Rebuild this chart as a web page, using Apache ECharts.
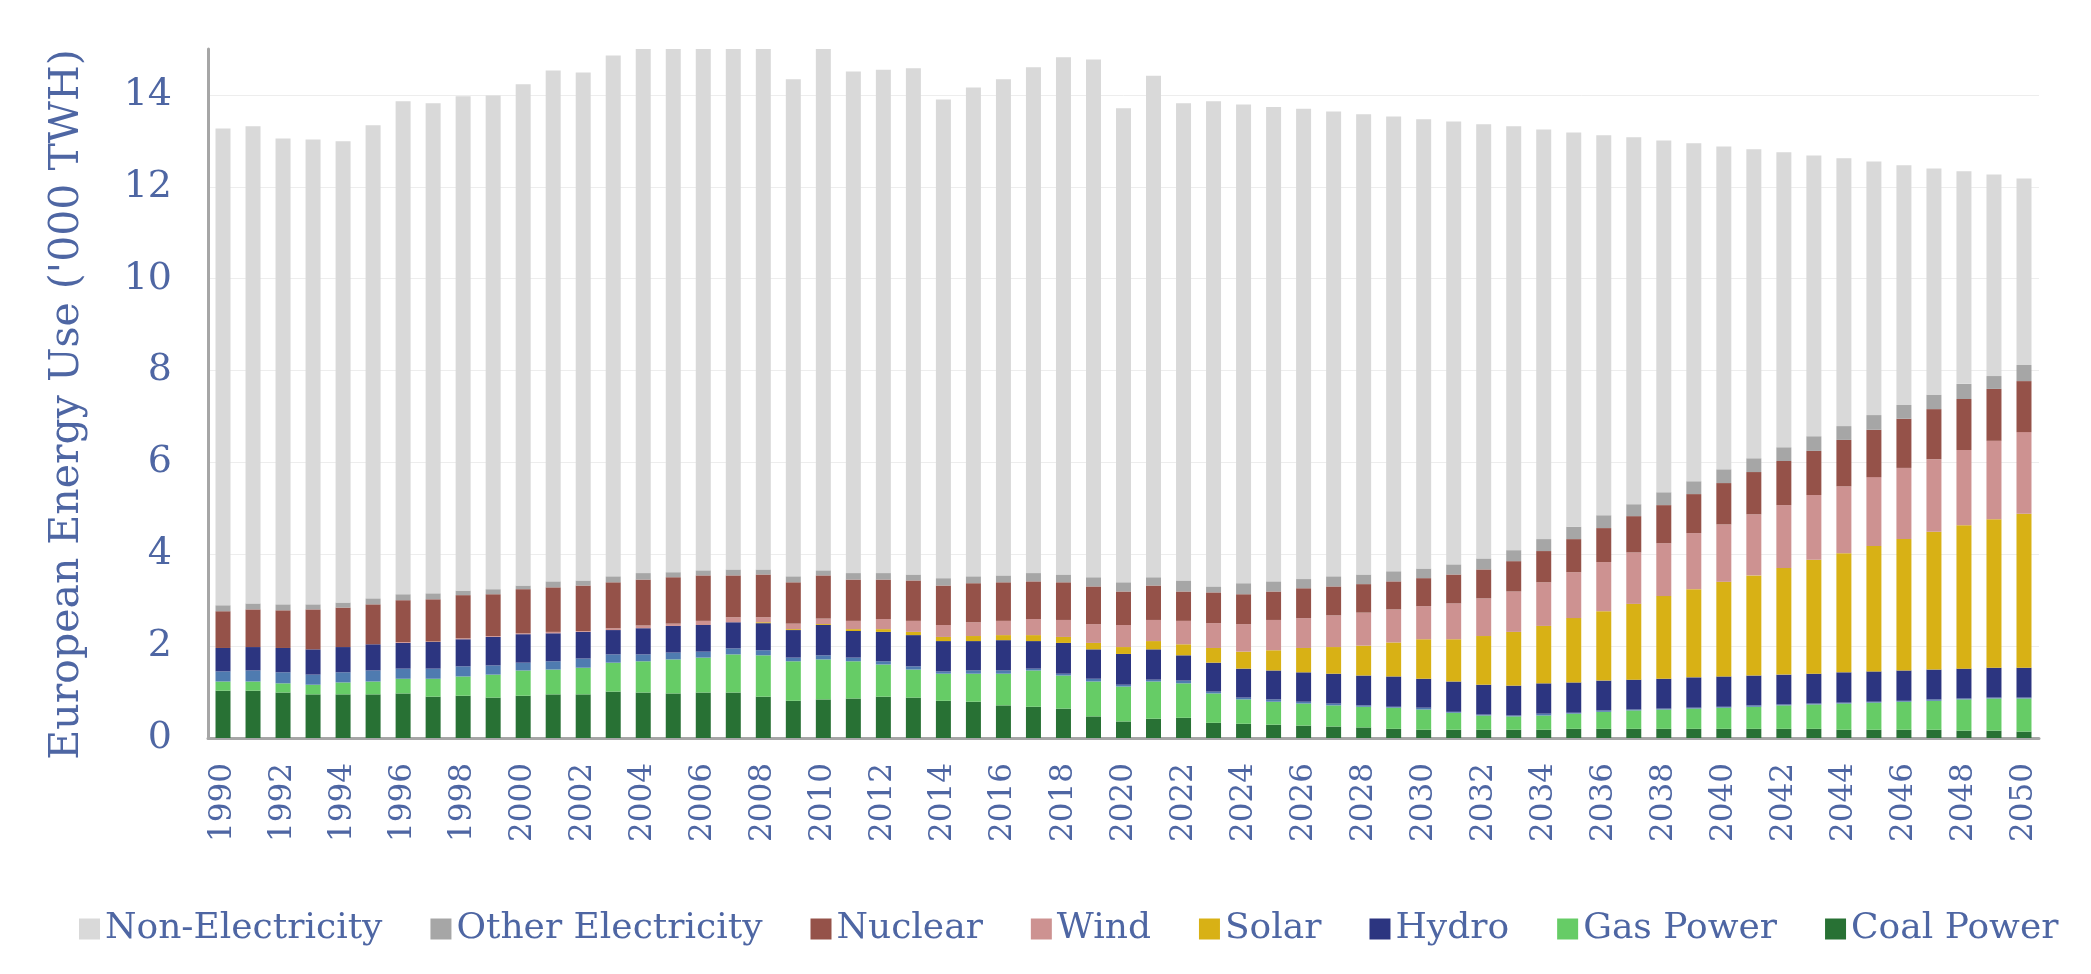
<!DOCTYPE html>
<html>
<head>
<meta charset="utf-8">
<script src="https://cdn.jsdelivr.net/npm/echarts@6/dist/echarts.min.js"></script>
<style>
html,body{margin:0;padding:0;background:#fff;}
#chart{width:2091px;height:974px;}
</style>
</head>
<body>
<div id="chart"></div>
<script>
const years = ["1990","1991","1992","1993","1994","1995","1996","1997","1998","1999",
"2000","2001","2002","2003","2004","2005","2006","2007","2008","2009",
"2010","2011","2012","2013","2014","2015","2016","2017","2018","2019",
"2020","2021","2022","2023","2024","2025","2026","2027","2028","2029",
"2030","2031","2032","2033","2034","2035","2036","2037","2038","2039",
"2040","2041","2042","2043","2044","2045","2046","2047","2048","2049",
"2050"];

const coalPower = [
1.03,1.03,0.99,0.95,0.95,0.95,0.97,0.90,0.92,0.88,
0.92,0.95,0.95,1.01,0.99,0.97,0.99,0.99,0.90,0.81,
0.84,0.86,0.90,0.88,0.81,0.79,0.71,0.68,0.64,0.47,
0.36,0.42,0.44,0.33,0.31,0.29,0.27,0.25,0.23,0.20,
0.18,0.18,0.18,0.18,0.18,0.20,0.20,0.20,0.20,0.20,
0.20,0.20,0.20,0.20,0.18,0.18,0.18,0.18,0.16,0.16,
0.14];
const gasPower = [
0.20,0.20,0.20,0.21,0.26,0.28,0.32,0.39,0.42,0.50,
0.55,0.54,0.58,0.63,0.68,0.74,0.76,0.83,0.90,0.86,
0.87,0.81,0.70,0.61,0.59,0.61,0.69,0.79,0.72,0.76,
0.76,0.81,0.75,0.64,0.53,0.50,0.48,0.46,0.45,0.46,
0.44,0.37,0.31,0.29,0.31,0.33,0.37,0.40,0.42,0.44,
0.46,0.48,0.51,0.53,0.57,0.59,0.61,0.63,0.68,0.70,
0.72];
const otherRenewables = [
0.22,0.24,0.24,0.22,0.22,0.24,0.22,0.22,0.22,0.20,
0.17,0.18,0.20,0.18,0.15,0.15,0.13,0.13,0.11,0.08,
0.09,0.08,0.07,0.07,0.05,0.07,0.07,0.04,0.04,0.06,
0.04,0.04,0.06,0.04,0.04,0.05,0.04,0.04,0.03,0.02,
0.04,0.02,0.02,0.02,0.04,0.02,0.03,0.02,0.02,0.02,
0.02,0.03,0.02,0.02,0.02,0.02,0.02,0.03,0.02,0.02,
0.02];
const hydro = [
0.51,0.51,0.53,0.55,0.55,0.57,0.56,0.58,0.59,0.62,
0.62,0.61,0.58,0.53,0.57,0.58,0.58,0.57,0.59,0.60,
0.66,0.58,0.64,0.68,0.66,0.64,0.66,0.60,0.67,0.64,
0.67,0.66,0.55,0.63,0.63,0.63,0.64,0.65,0.65,0.66,
0.63,0.66,0.65,0.65,0.66,0.66,0.65,0.65,0.65,0.66,
0.66,0.65,0.65,0.65,0.66,0.66,0.66,0.65,0.65,0.65,
0.65];
const solar = [
0,0,0,0,0,0,0,0,0,0,
0,0,0,0,0,0,0,0,0.02,0.02,
0.02,0.04,0.06,0.07,0.09,0.11,0.11,0.13,0.13,0.14,
0.15,0.18,0.24,0.32,0.37,0.44,0.53,0.58,0.65,0.74,
0.86,0.92,1.06,1.17,1.25,1.40,1.51,1.65,1.80,1.92,
2.06,2.18,2.32,2.48,2.59,2.73,2.86,3.00,3.12,3.23,
3.35];
const wind = [
0,0,0,0,0,0,0.02,0.01,0.02,0.02,
0.02,0.03,0.02,0.04,0.06,0.05,0.09,0.11,0.11,0.12,
0.12,0.18,0.22,0.24,0.26,0.30,0.31,0.35,0.37,0.41,
0.48,0.46,0.51,0.54,0.60,0.66,0.65,0.69,0.72,0.72,
0.72,0.78,0.82,0.88,0.95,1.00,1.07,1.12,1.15,1.22,
1.25,1.33,1.37,1.41,1.46,1.50,1.55,1.58,1.64,1.71,
1.78];
const nuclear = [
0.80,0.82,0.82,0.87,0.86,0.87,0.91,0.92,0.94,0.91,
0.96,0.97,0.99,1.00,1.00,1.01,0.99,0.91,0.93,0.90,
0.94,0.90,0.86,0.88,0.86,0.85,0.84,0.82,0.82,0.82,
0.73,0.75,0.64,0.67,0.65,0.62,0.65,0.63,0.62,0.61,
0.61,0.63,0.63,0.66,0.68,0.72,0.74,0.79,0.83,0.85,
0.90,0.92,0.96,0.96,1.01,1.03,1.07,1.09,1.11,1.13,
1.11];
const otherElectricity = [
0.13,0.13,0.13,0.11,0.11,0.13,0.13,0.13,0.10,0.11,
0.08,0.13,0.11,0.13,0.14,0.11,0.11,0.13,0.11,0.13,
0.11,0.14,0.14,0.13,0.16,0.15,0.15,0.18,0.17,0.20,
0.20,0.18,0.24,0.13,0.24,0.22,0.20,0.22,0.21,0.22,
0.21,0.22,0.24,0.24,0.26,0.27,0.28,0.26,0.28,0.28,
0.30,0.30,0.30,0.32,0.30,0.32,0.30,0.31,0.33,0.28,
0.35];
const nonElectricity = [
10.38,10.39,10.14,10.12,10.04,10.30,10.73,10.67,10.76,10.75,
10.91,11.12,11.06,11.34,11.61,11.69,11.65,11.63,11.53,10.82,
11.45,10.92,10.96,11.02,10.42,10.64,10.80,11.01,11.26,11.27,
10.32,10.92,10.39,10.56,10.42,10.33,10.24,10.12,10.02,9.90,
9.78,9.64,9.45,9.23,8.92,8.58,8.27,7.99,7.66,7.36,
7.03,6.73,6.42,6.11,5.83,5.52,5.22,4.93,4.63,4.39,
4.06];

const yTicks = ["0","2","4","6","8","10","12","14"];
const legendOrder = ["Non-Electricity","Other Electricity","Nuclear","Wind","Solar","Hydro","Gas Power","Coal Power"];

const TEXT = '#4E66A3';
const FONT = 'DejaVu Serif';

const stackDefs = [
  {name:'Coal Power', data:coalPower, color:'#287134'},
  {name:'Gas Power', data:gasPower, color:'#66CC66'},
  {name:'Other Renewables', data:otherRenewables, color:'#4F7BB0'},
  {name:'Hydro', data:hydro, color:'#2C3580'},
  {name:'Solar', data:solar, color:'#D8B115'},
  {name:'Wind', data:wind, color:'#CD9291'},
  {name:'Nuclear', data:nuclear, color:'#955249'},
  {name:'Other Electricity', data:otherElectricity, color:'#A6A6A6'},
  {name:'Non-Electricity', data:nonElectricity, color:'#D9D9D9'}
];

const chart = echarts.init(document.getElementById('chart'), null, {renderer:'canvas'});
chart.setOption({
  animation:false,
  backgroundColor:'#ffffff',
  textStyle:{fontFamily:FONT, color:TEXT},
  grid:{left:208, right:52, top:49, bottom:236, containLabel:false},
  legend:{
    data:legendOrder,
    left:74,
    top:906,
    icon:'rect',
    itemWidth:21,
    itemHeight:21,
    itemGap:48,
    textStyle:{fontSize:36, color:TEXT, fontFamily:FONT},
    selectedMode:false
  },
  xAxis:{
    type:'category',
    data:years,
    boundaryGap:true,
    axisLine:{show:true, lineStyle:{color:'#A6A6A6', width:3}},
    axisTick:{show:false},
    axisLabel:{interval:1, rotate:90, margin:25, fontSize:31, color:TEXT, fontFamily:FONT},
    splitLine:{show:false}
  },
  yAxis:{
    type:'value',
    min:0, max:15, interval:2,
    name:"European Energy Use ('000 TWH)",
    nameLocation:'middle',
    nameGap:120,
    nameTextStyle:{fontSize:41, color:TEXT, fontFamily:FONT, padding:[0,22,0,0]},
    axisLine:{show:true, lineStyle:{color:'#A6A6A6', width:3}},
    axisTick:{show:false},
    axisLabel:{margin:36, fontSize:38, color:TEXT, fontFamily:FONT, showMaxLabel:false,
      formatter:function(v){ const s=String(v); return yTicks.indexOf(s)>=0 ? s : ''; }},
    splitLine:{show:true, showMaxLine:false, lineStyle:{color:'#EDEDED', width:1}}
  },
  series: stackDefs.map(d => ({
    name:d.name,
    type:'bar',
    stack:'total',
    data:d.data,
    barWidth:15,
    itemStyle:{color:d.color},
    emphasis:{disabled:true},
    clip:true
  }))
});
</script>
</body>
</html>
